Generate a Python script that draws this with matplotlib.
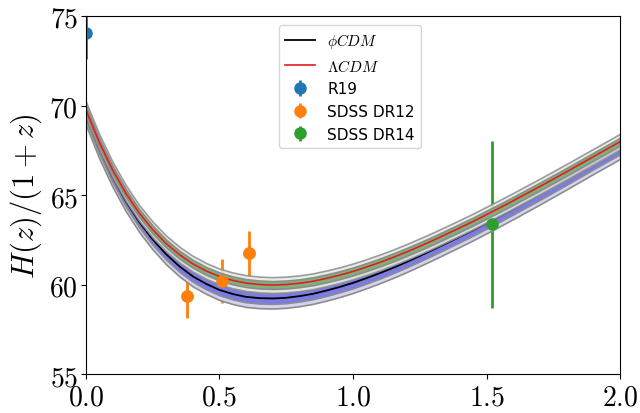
import matplotlib
matplotlib.use("Agg")
import matplotlib.pyplot as plt
import numpy as np
from matplotlib.ticker import FuncFormatter

plt.rcParams["mathtext.fontset"] = "cm"

# Redshift grid for the model curves
z_grid = [0.00, 0.05, 0.10, 0.15, 0.20, 0.25, 0.30, 0.35, 0.40, 0.45,
          0.50, 0.55, 0.60, 0.65, 0.70, 0.75, 0.80, 0.85, 0.90, 0.95,
          1.00, 1.05, 1.10, 1.15, 1.20, 1.25, 1.30, 1.35, 1.40, 1.45,
          1.50, 1.55, 1.60, 1.65, 1.70, 1.75, 1.80, 1.85, 1.90, 1.95, 2.00]

# LambdaCDM best fit H(z)/(1+z)
h_lcdm = [69.80, 67.98, 66.43, 65.12, 64.01, 63.09, 62.32, 61.69, 61.18, 60.78,
          60.47, 60.25, 60.10, 60.02, 59.99, 60.02, 60.09, 60.20, 60.36, 60.54,
          60.75, 60.99, 61.25, 61.53, 61.83, 62.15, 62.48, 62.83, 63.18, 63.54,
          63.92, 64.30, 64.69, 65.09, 65.49, 65.90, 66.31, 66.73, 67.15, 67.57, 67.99]

# phiCDM best fit H(z)/(1+z)
h_phicdm = [69.50, 67.63, 66.03, 64.67, 63.51, 62.54, 61.72, 61.04, 60.48, 60.06,
            59.72, 59.49, 59.33, 59.26, 59.24, 59.28, 59.37, 59.50, 59.68, 59.88,
            60.11, 60.37, 60.65, 60.95, 61.27, 61.61, 61.96, 62.32, 62.68, 63.05,
            63.44, 63.83, 64.23, 64.64, 65.05, 65.47, 65.89, 66.32, 66.75, 67.17, 67.59]

# Half-widths of the 1 and 2 sigma bands
lcdm_sig1, lcdm_sig2 = 0.22, 0.44
phi_sig1, phi_sig2 = 0.30, 0.56

# Measurements
r19_z, r19_h, r19_err = [0.0], [74.03], [1.42]
dr12_z = [0.38, 0.51, 0.61]
dr12_h = [59.40, 60.23, 61.75]
dr12_err = [1.25, 1.23, 1.24]
dr14_z, dr14_h, dr14_err = [1.52], [63.38], [4.67]

x_ticks = [0.0, 0.5, 1.0, 1.5, 2.0]
y_ticks = [55, 60, 65, 70, 75]

fig = plt.figure(figsize=(6.4, 4.14), dpi=100)
ax = fig.add_axes([0.134, 0.093, 0.835, 0.866])

z = np.array(z_grid)
hl = np.array(h_lcdm)
hp = np.array(h_phicdm)
edge = "#8c8c8c"

# phiCDM bands
ax.fill_between(z, hp - phi_sig2, hp + phi_sig2, facecolor="#d4d4f2",
                edgecolor=edge, linewidth=1.2, zorder=2)
ax.fill_between(z, hp - phi_sig1, hp + phi_sig1, facecolor="#7b7be6",
                edgecolor=edge, linewidth=1.2, zorder=2.1)
ax.plot(z, hp, color="black", lw=1.3, zorder=2.2, label=r"$\phi CDM$")

# LambdaCDM bands
ax.fill_between(z, hl - lcdm_sig2, hl + lcdm_sig2, facecolor="#e3ece3",
                edgecolor=edge, linewidth=1.2, alpha=0.85, zorder=2.3)
ax.fill_between(z, hl - lcdm_sig1, hl + lcdm_sig1, facecolor="#7faf7f",
                edgecolor=edge, linewidth=1.2, zorder=2.4)
ax.plot(z, hl, color="#e0201a", lw=1.2, zorder=2.5, label=r"$\Lambda CDM$")

# Data with error bars
ekw = dict(fmt="o", ms=8, elinewidth=2, capsize=0, zorder=1.5)
ax.errorbar(r19_z, r19_h, yerr=r19_err, color="tab:blue", label="R19", **ekw)
ax.errorbar(dr12_z, dr12_h, yerr=dr12_err, color="tab:orange", label="SDSS DR12", **ekw)
ax.errorbar(dr14_z, dr14_h, yerr=dr14_err, color="tab:green", label="SDSS DR14", **ekw)
ax.plot(dr12_z, dr12_h, "o", ms=8, color="tab:orange", zorder=3)
ax.plot(dr14_z, dr14_h, "o", ms=8, color="tab:green", zorder=3)

ax.set_xlim(0.0, 2.0)
ax.set_ylim(55, 75)
ax.set_xticks(x_ticks)
ax.set_yticks(y_ticks)
ax.xaxis.set_major_formatter(FuncFormatter(lambda v, p: rf"${v:.1f}$"))
ax.yaxis.set_major_formatter(FuncFormatter(lambda v, p: rf"${v:.0f}$"))
ax.tick_params(labelsize=20, length=3.5, pad=2)
ax.set_ylabel(r"$H(z)/(1+z)$", fontsize=22)

ax.legend(loc="upper center", bbox_to_anchor=(0.494, 0.975), borderaxespad=0,
          fontsize=11, framealpha=0.8)

fig.savefig("out.png", dpi=100)
